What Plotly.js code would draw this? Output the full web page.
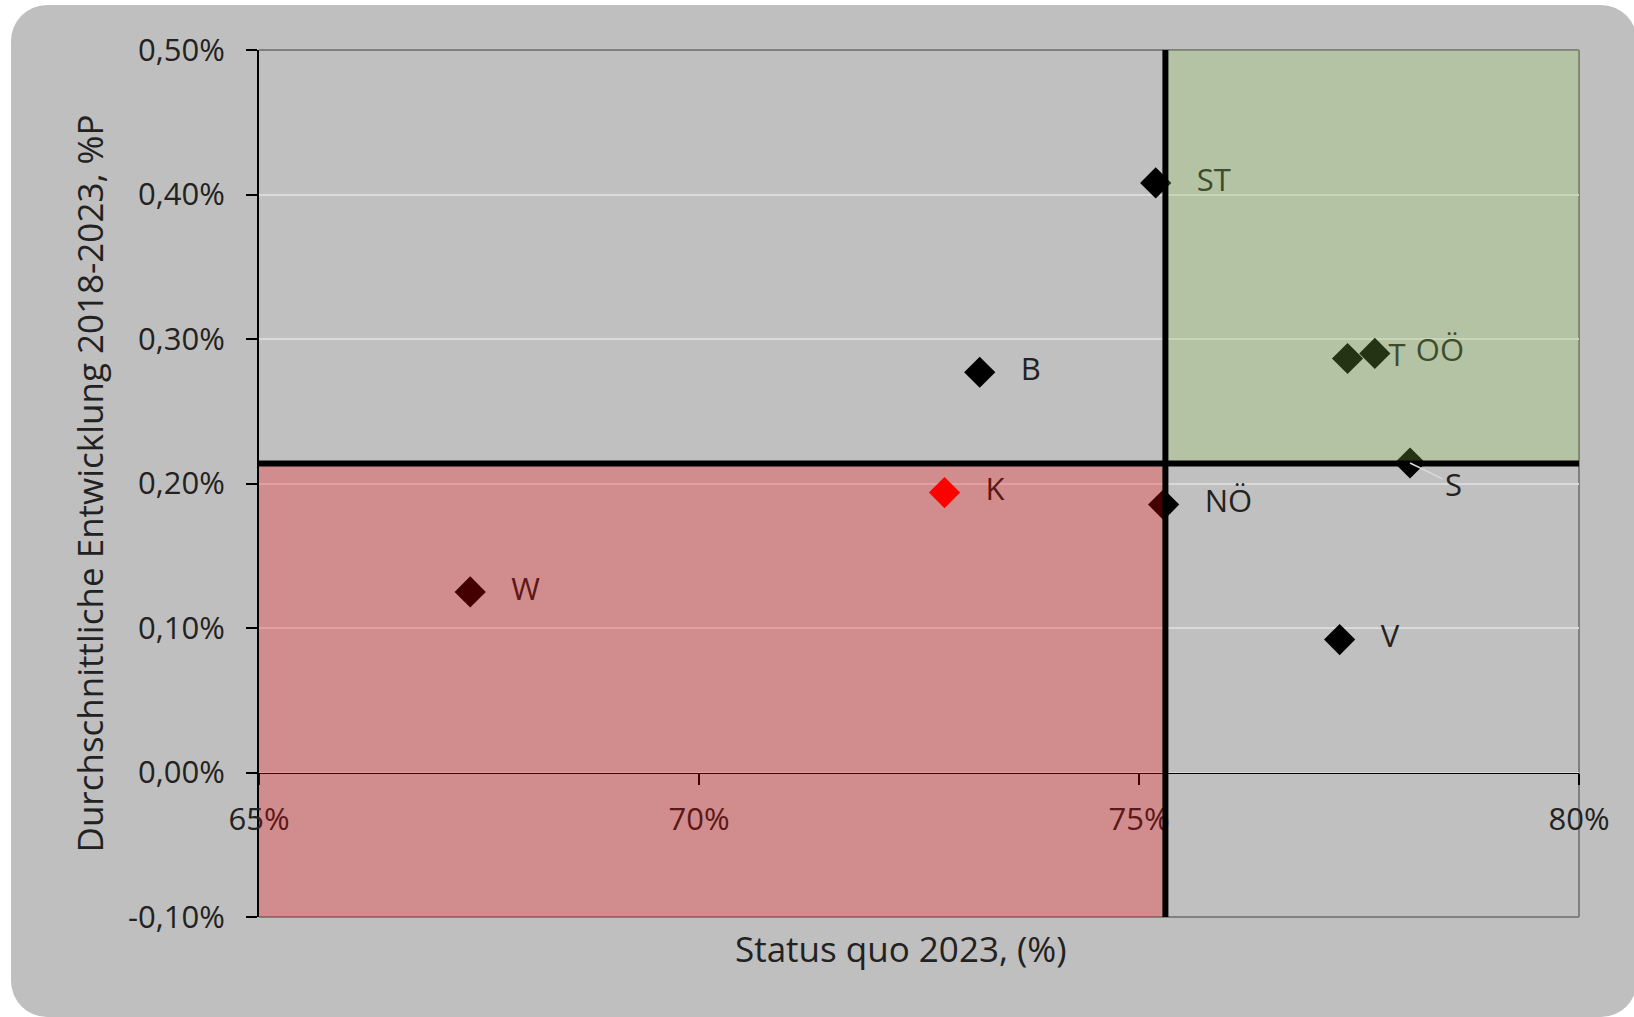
<!DOCTYPE html>
<html>
<head>
<meta charset="utf-8">
<script src="https://cdn.plot.ly/plotly-3.0.1.min.js"></script>
<style>
  html, body { margin: 0; padding: 0; background: #ffffff; width: 1634px; height: 1017px; overflow: hidden; }
  #frame { position: absolute; left: 11px; top: 5px; width: 1626px; height: 1012px; background: #bfbfbf; border-radius: 36px; }
  #chart { position: absolute; left: 0; top: 0; width: 1634px; height: 1017px; }
</style>
</head>
<body>
<div id="frame"></div>
<div id="chart"></div>
<script>
// ---- data ----
const regions      = ['ST', 'B', 'T', 'OÖ', 'S', 'K', 'NÖ', 'W', 'V'];
const statusQuo    = [75.19, 73.19, 77.37, 77.68, 78.08, 72.79, 75.28, 67.40, 77.28];   // x, %
const entwicklung  = [0.408, 0.277, 0.2865, 0.290, 0.2142, 0.1937, 0.1854, 0.125, 0.092]; // y, %P
const markerColors = ['#000000', '#000000', '#000000', '#000000', '#000000', '#ff0000', '#000000', '#000000', '#000000'];
const avgStatusQuo   = 75.30;  // vertical threshold
const avgEntwicklung = 0.2138; // horizontal threshold

const xRange = [65, 80];
const yRange = [-0.1, 0.5];
const xTickVals = [65, 70, 75, 80];
const xTickText = ['65%', '70%', '75%', '80%'];
const yTickVals = [-0.1, 0, 0.1, 0.2, 0.3, 0.4, 0.5];
const yTickText = ['-0,10%', '0,00%', '0,10%', '0,20%', '0,30%', '0,40%', '0,50%'];

const xTitle = 'Status quo 2023, (%)';
const yTitle = 'Durchschnittliche Entwicklung 2018-2023, %P';

const FONT = 'Open Sans, Noto Sans, sans-serif';
const TXT = '#222222';

const points = {
  type: 'scatter', mode: 'markers',
  x: statusQuo, y: entwicklung,
  marker: { symbol: 'diamond', size: 24, color: markerColors, line: { width: 0 } },
  hoverinfo: 'skip', showlegend: false
};

// label trace: invisible, larger markers only to push the text away from the points
const labelTrace = {
  type: 'scatter', mode: 'markers+text',
  x: statusQuo, y: entwicklung,
  text: regions.map(r => r === 'S' ? '' : r),
  textposition: 'middle right',
  textfont: { family: FONT, size: 31, color: TXT },
  marker: { symbol: 'circle', size: 64, color: 'rgba(0,0,0,0)' },
  hoverinfo: 'skip', showlegend: false
};

const sIdx = regions.indexOf('S');

const layout = {
  width: 1634, height: 1017,
  margin: { l: 259, r: 55, t: 50, b: 100 },
  paper_bgcolor: 'rgba(0,0,0,0)',
  plot_bgcolor: '#c0c0c0',
  font: { family: FONT, size: 31, color: TXT },
  xaxis: {
    range: xRange, anchor: 'free',
    position: (0 - yRange[0]) / (yRange[1] - yRange[0]),
    showgrid: false, zeroline: false,
    showline: true, linecolor: '#000000', linewidth: 1.5,
    ticks: 'outside', ticklen: 11, tickwidth: 1.5, tickcolor: '#000000',
    tickvals: xTickVals, ticktext: xTickText,
    ticklabelstandoff: 8,
    tickfont: { family: FONT, size: 31, color: TXT }
  },
  yaxis: {
    range: yRange,
    showgrid: true, gridcolor: '#dadada', gridwidth: 2,
    zeroline: false,
    showline: true, linecolor: '#000000', linewidth: 2,
    ticks: 'outside', ticklen: 11, tickwidth: 2, tickcolor: '#000000',
    tickvals: yTickVals, ticktext: yTickText,
    ticklabelstandoff: 15,
    tickfont: { family: FONT, size: 31, color: TXT },
    title: { text: yTitle, font: { family: FONT, size: 35, color: TXT }, standoff: 14 }
  },
  shapes: [
    // plot frame (top, right, bottom)
    { type: 'line', xref: 'paper', yref: 'paper', x0: 0, x1: 1, y0: 1, y1: 1, line: { color: '#808080', width: 2 }, layer: 'below' },
    { type: 'line', xref: 'paper', yref: 'paper', x0: 1, x1: 1, y0: 0, y1: 1, line: { color: '#808080', width: 2 }, layer: 'below' },
    { type: 'line', xref: 'paper', yref: 'paper', x0: 0, x1: 1, y0: 0, y1: 0, line: { color: '#808080', width: 2 }, layer: 'below' },
    // quadrant overlays
    { type: 'rect', xref: 'x', yref: 'y', x0: xRange[0], x1: avgStatusQuo, y0: yRange[0], y1: avgEntwicklung,
      fillcolor: '#ff0000', opacity: 0.266, line: { width: 0 }, layer: 'above' },
    { type: 'rect', xref: 'x', yref: 'y', x0: avgStatusQuo, x1: xRange[1], y0: avgEntwicklung, y1: yRange[1],
      fillcolor: '#94cc54', opacity: 0.25, line: { width: 0 }, layer: 'above' },
    // threshold lines
    { type: 'line', xref: 'x', yref: 'y', x0: xRange[0], x1: xRange[1], y0: avgEntwicklung, y1: avgEntwicklung,
      line: { color: '#000000', width: 6 }, layer: 'above' },
    { type: 'line', xref: 'x', yref: 'y', x0: avgStatusQuo, x1: avgStatusQuo, y0: yRange[0], y1: yRange[1],
      line: { color: '#000000', width: 6 }, layer: 'above' }
  ],
  annotations: [
    { xref: 'paper', yref: 'paper', x: 0.486, y: 0, yshift: -31, xanchor: 'center', yanchor: 'middle',
      text: xTitle, showarrow: false, font: { family: FONT, size: 35, color: TXT } },
    { xref: 'x', yref: 'y', x: statusQuo[sIdx], y: entwicklung[sIdx], text: regions[sIdx],
      showarrow: true, arrowhead: 0, arrowwidth: 1.5, arrowcolor: '#d9d9d9', ax: 43, ay: 21, standoff: 0,
      font: { family: FONT, size: 31, color: TXT } }
  ],
  showlegend: false
};

Plotly.newPlot('chart', [points, labelTrace], layout, { displayModeBar: false, staticPlot: true });
</script>
</body>
</html>
